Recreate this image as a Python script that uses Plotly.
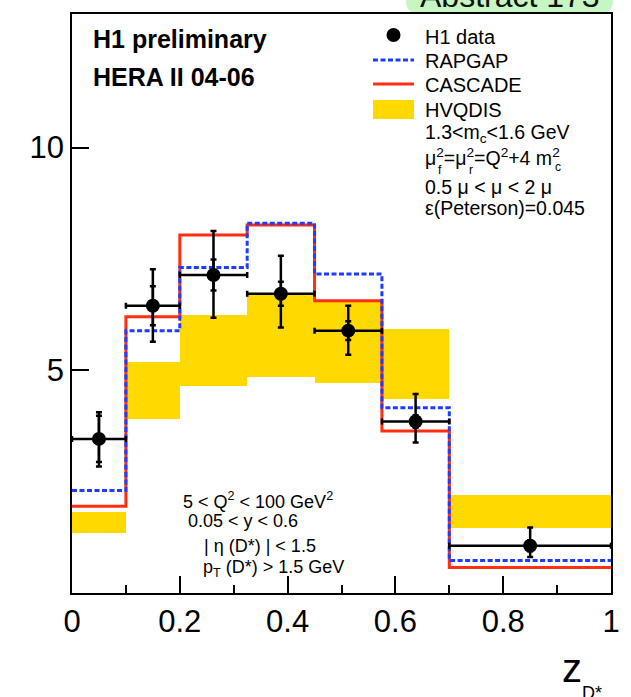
import plotly.graph_objects as go

# z(D*) bins and measured / predicted differential cross sections
bin_edges = [0.0, 0.1, 0.2, 0.325, 0.45, 0.575, 0.7, 1.0]
h1_data = [3.46, 6.45, 7.14, 6.72, 5.89, 3.85, 1.06]
h1_stat = [0.52, 0.44, 0.35, 0.27, 0.21, 0.14, 0.12]
h1_tot_up = [0.60, 0.82, 0.99, 0.85, 0.56, 0.62, 0.41]
h1_tot_dn = [0.62, 0.81, 0.96, 0.76, 0.54, 0.47, 0.25]
rapgap = [2.30, 5.89, 7.31, 8.30, 7.16, 4.16, 0.73]
cascade = [1.95, 6.20, 8.04, 8.26, 6.56, 3.64, 0.57]
hvqdis_low = [1.35, 3.91, 4.65, 4.86, 4.72, 4.35, 1.45]
hvqdis_high = [1.82, 5.19, 6.24, 6.72, 6.54, 5.93, 2.20]

x_ticks = [0, 0.2, 0.4, 0.6, 0.8, 1.0]
x_tick_labels = ["0", "0.2", "0.4", "0.6", "0.8", "1"]
x_minor_ticks = [0.1, 0.3, 0.5, 0.7, 0.9]
y_ticks = [5, 10]
y_tick_labels = ["5", "10"]

FONT = "Liberation Sans, Arial, Helvetica, sans-serif"
YELLOW = "#FFD900"
RED = "#FF2F10"
BLUE = "#1F3BFF"

W, H = 631, 697
ML, MR, MT, MB = 72, 20, 14, 104
PW = W - ML - MR
PH = H - MT - MB


def px(x):
    return (x - ML) / PW


def py(y):
    return (H - MB - y) / PH


centers = [(a + b) / 2 for a, b in zip(bin_edges[:-1], bin_edges[1:])]
widths = [b - a for a, b in zip(bin_edges[:-1], bin_edges[1:])]
half_widths = [w / 2 for w in widths]

fig = go.Figure()

# HVQDIS uncertainty band
fig.add_trace(go.Bar(
    x=centers, y=[h - l for h, l in zip(hvqdis_high, hvqdis_low)], base=hvqdis_low,
    width=widths, marker=dict(color=YELLOW, line=dict(width=0)),
    showlegend=False, hoverinfo="skip",
))

# CASCADE histogram
fig.add_trace(go.Scatter(
    x=bin_edges, y=cascade + [cascade[-1]], mode="lines", line_shape="hv",
    line=dict(color=RED, width=3), showlegend=False,
))

# RAPGAP histogram
fig.add_trace(go.Scatter(
    x=bin_edges, y=rapgap + [rapgap[-1]], mode="lines", line_shape="hv",
    line=dict(color=BLUE, width=3, dash="5px,2.5px"), showlegend=False,
))

# H1 data with total uncertainties
fig.add_trace(go.Scatter(
    x=centers, y=h1_data, mode="markers",
    marker=dict(color="black", size=14),
    error_y=dict(type="data", symmetric=False, array=h1_tot_up, arrayminus=h1_tot_dn,
                 color="black", thickness=2.5, width=3),
    error_x=dict(type="data", array=half_widths, color="black", thickness=2.5, width=3),
    showlegend=False, cliponaxis=False,
))

# statistical uncertainty ticks
fig.add_trace(go.Scatter(
    x=centers, y=h1_data, mode="markers",
    marker=dict(color="rgba(0,0,0,0)", size=1),
    error_y=dict(type="data", array=h1_stat, color="black", thickness=2.5, width=3),
    showlegend=False,
))

shapes = []
annotations = []

# "Abstract" badge above the frame
bx0, bx1, by1, r = 406, 613, 13, 12
shapes.append(dict(
    type="path", xref="paper", yref="paper",
    path=(f"M {px(bx0)},{py(-30)} L {px(bx0)},{py(by1 - r)} "
          f"Q {px(bx0)},{py(by1)} {px(bx0 + r)},{py(by1)} "
          f"L {px(bx1 - r)},{py(by1)} Q {px(bx1)},{py(by1)} {px(bx1)},{py(by1 - r)} "
          f"L {px(bx1)},{py(-30)} Z"),
    fillcolor="#C6F7C3", line=dict(width=0), layer="below",
))
annotations.append(dict(
    text="Abstract 173", xref="paper", yref="paper", x=px(510), y=py(16),
    xanchor="center", yanchor="bottom", showarrow=False,
    font=dict(family=FONT, size=32, color="#111111"),
))

# legend symbols
shapes.append(dict(type="circle", xref="paper", yref="paper",
                   x0=px(386.5), x1=px(400.5), y0=py(42), y1=py(28),
                   fillcolor="black", line=dict(width=0)))
shapes.append(dict(type="line", xref="paper", yref="paper",
                   x0=px(373), x1=px(414), y0=py(60), y1=py(60),
                   line=dict(color=BLUE, width=3, dash="5px,2.5px")))
shapes.append(dict(type="line", xref="paper", yref="paper",
                   x0=px(373), x1=px(414), y0=py(84), y1=py(84),
                   line=dict(color=RED, width=3)))
shapes.append(dict(type="rect", xref="paper", yref="paper",
                   x0=px(373), x1=px(414), y0=py(119), y1=py(100),
                   fillcolor=YELLOW, line=dict(width=0)))


def label(text, x, y, size, bold=False, anchor="left"):
    annotations.append(dict(
        text=f"<b>{text}</b>" if bold else text, xref="paper", yref="paper",
        x=px(x), y=py(y), xanchor=anchor, yanchor="middle", showarrow=False,
        font=dict(family=FONT, size=size, color="black"),
    ))


label("H1 preliminary", 91, 39, 25, bold=True)
label("HERA II 04-06", 91, 77, 25, bold=True)

label("H1 data", 423, 37, 20)
label("RAPGAP", 423, 61, 20)
label("CASCADE", 423, 85, 20)
label("HVQDIS", 423, 110, 20)
label("1.3&lt;m<sub>c</sub>&lt;1.6 GeV", 423, 133, 19.5)
label("μ<sup>2</sup>=μ<sup>2</sup>=Q<sup>2</sup>+4 m<sup>2</sup>", 423, 157, 19.5)
label("f", 436, 170, 12)
label("r", 467, 170, 12)
label("c", 553, 167, 12)
label("0.5 μ &lt; μ &lt; 2 μ", 423, 187, 19.5)
label("ε(Peterson)=0.045", 423, 208, 19.5)

label("5 &lt; Q<sup>2</sup> &lt; 100 GeV<sup>2</sup>", 181, 500, 18)
label("0.05 &lt; y &lt; 0.6", 186, 521, 18)
label("| η (D*) | &lt; 1.5", 202, 546, 18)
label("p<sub>T</sub> (D*) &gt; 1.5 GeV", 201, 568, 18)

# x-axis title z_{D*}
label("z", 560, 668, 40)
label("D*", 580, 693, 18)

fig.update_layout(
    width=W, height=H,
    margin=dict(l=ML, r=MR, t=MT, b=MB, pad=0),
    paper_bgcolor="white", plot_bgcolor="white",
    barmode="overlay", bargap=0,
    showlegend=False,
    font=dict(family=FONT, color="black"),
    shapes=shapes, annotations=annotations,
    xaxis=dict(
        range=[0, 1], showgrid=False, zeroline=False,
        showline=True, mirror=True, linecolor="black", linewidth=1.5,
        ticks="inside", ticklen=17, tickwidth=1.5, tickcolor="black",
        tickmode="array", tickvals=x_ticks, ticktext=x_tick_labels,
        tickfont=dict(family=FONT, size=31, color="black"),
        minor=dict(ticks="inside", ticklen=8, tickwidth=1.5, tickcolor="black",
                   tickvals=x_minor_ticks, showgrid=False),
    ),
    yaxis=dict(
        range=[0, 13], showgrid=False, zeroline=False,
        showline=True, mirror=True, linecolor="black", linewidth=1.5,
        ticks="inside", ticklen=17, tickwidth=1.5, tickcolor="black",
        tickmode="array", tickvals=y_ticks, ticktext=y_tick_labels,
        tickfont=dict(family=FONT, size=31, color="black"),
    ),
)

fig.write_html("out.html")
